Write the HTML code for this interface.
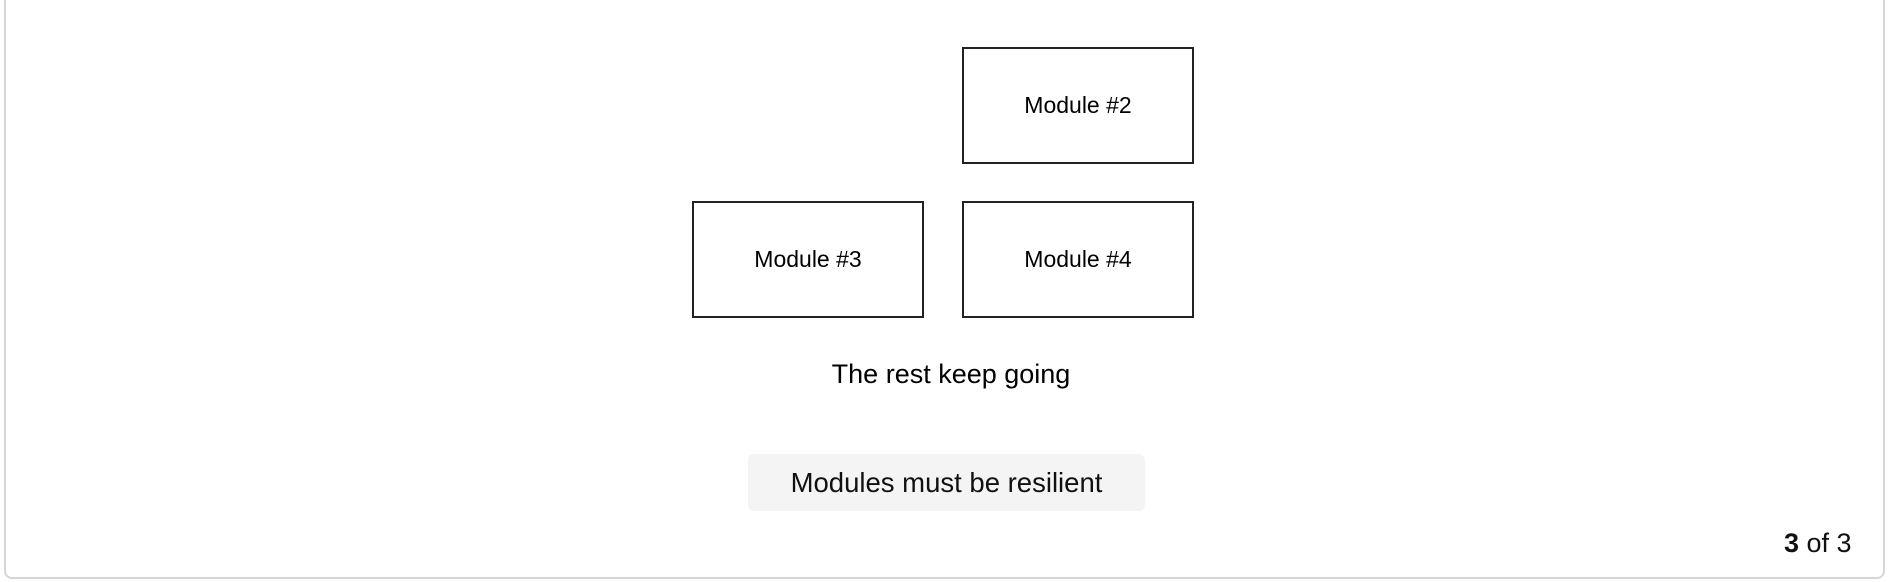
<!DOCTYPE html>
<html><head><style>
html,body{margin:0;padding:0;width:1888px;height:582px;background:#fff;overflow:hidden;font-family:"Liberation Sans",Arial,sans-serif;}
.card{position:absolute;left:4px;top:-10px;width:1881px;height:589px;border:2px solid #d6d6d6;border-radius:8px;box-sizing:border-box;}
.box{position:absolute;width:232px;height:117px;border:2px solid #222;box-sizing:border-box;display:flex;align-items:center;justify-content:center;font-size:23px;color:#000;}
.t{position:absolute;left:0;width:1902px;text-align:center;font-size:27px;top:359px;color:#000;}
.btn{position:absolute;left:748px;top:454px;width:397px;height:57px;background:#f4f4f4;border-radius:6px;display:flex;align-items:center;justify-content:center;font-size:27.5px;color:#111;}
.pg{position:absolute;left:1784px;top:528px;font-size:27px;color:#111;}
</style></head><body>
<div class="card"></div>
<div class="box" style="left:962px;top:47px">Module #2</div>
<div class="box" style="left:692px;top:201px">Module #3</div>
<div class="box" style="left:962px;top:201px">Module #4</div>
<div class="t">The rest keep going</div>
<div class="btn">Modules must be resilient</div>
<div class="pg"><b>3</b> of 3</div>
</body></html>
